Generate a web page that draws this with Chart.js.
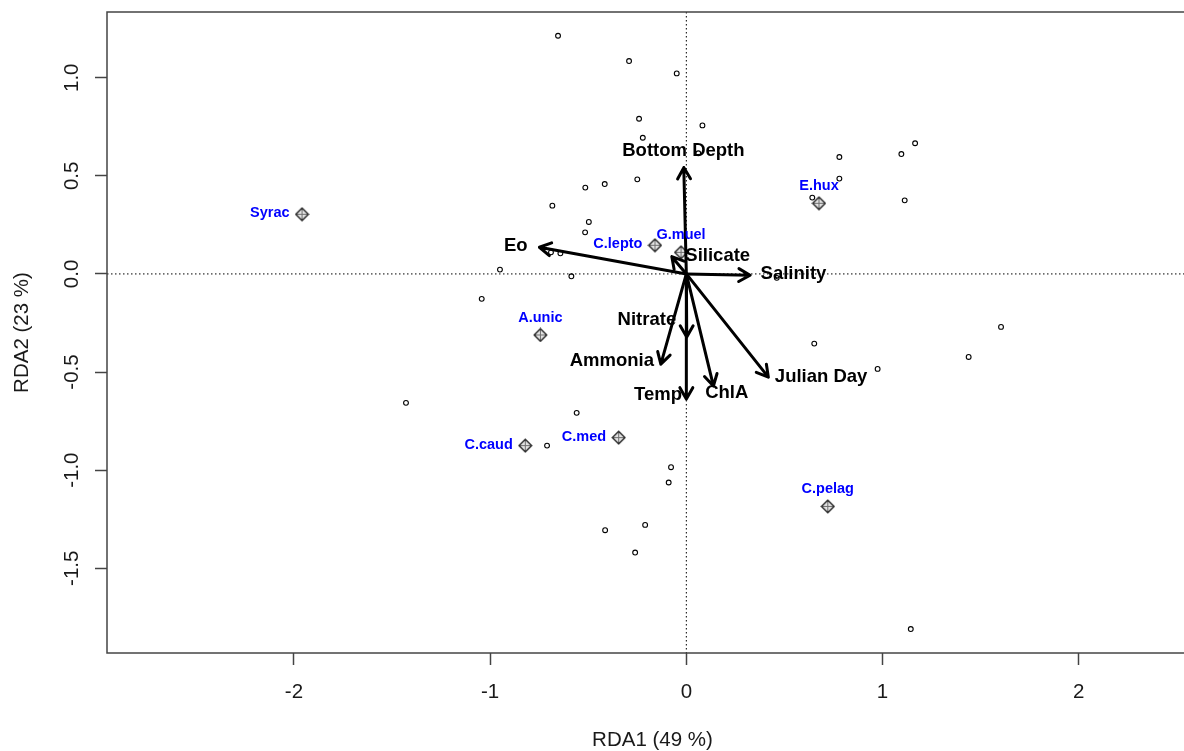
<!DOCTYPE html>
<html>
<head>
<meta charset="utf-8">
<title>RDA biplot</title>
<script src="https://cdn.jsdelivr.net/npm/chart.js@4.4.1/dist/chart.umd.min.js"></script>
<style>
  html, body { margin: 0; padding: 0; background: #fff; overflow: hidden; }
  #wrap { position: relative; width: 1210px; height: 751px; }
</style>
</head>
<body>
<div id="wrap"><canvas id="rda_plot"></canvas></div>
<script>
// site scores (RDA1, RDA2)
var siteX = [-0.654, -0.292, -0.049, -0.241, 0.082, -0.222, 0.061, -0.250, -0.515, -0.416,
             -0.683, -0.497, -0.516, -0.690, -0.642, -0.950, -0.586, -1.043, 0.461, 1.166,
             1.096, 0.780, 0.780, 0.642, 1.113, 1.604, 0.652, 1.439, 0.975, 1.144,
             -1.429, -0.559, -0.710, -0.078, -0.090, -0.414, -0.210, -0.261];
var siteY = [1.214, 1.085, 1.022, 0.791, 0.757, 0.694, 0.615, 0.482, 0.440, 0.458,
             0.348, 0.265, 0.212, 0.110, 0.105, 0.022, -0.012, -0.127, -0.020, 0.666,
             0.611, 0.596, 0.486, 0.389, 0.375, -0.270, -0.355, -0.423, -0.484, -1.810,
             -0.657, -0.708, -0.875, -0.985, -1.063, -1.306, -1.279, -1.420];

// species scores
var speciesNames = ['Syrac', 'C.lepto', 'G.muel', 'A.unic', 'C.caud', 'C.med', 'E.hux', 'C.pelag'];
var speciesX = [-1.959, -0.160, -0.027, -0.744, -0.821, -0.345, 0.676, 0.721];
var speciesY = [0.304, 0.146, 0.110, -0.311, -0.875, -0.834, 0.360, -1.185];
var speciesSide = ['left', 'left', 'above', 'above', 'left', 'left', 'above', 'above'];

// environmental vectors: arrow tips and where their names sit
var envNames = ['Bottom Depth', 'Eo', 'Silicate', 'Salinity', 'Nitrate', 'Ammonia', 'Temp', 'ChlA', 'Julian Day'];
var envX = [-0.013, -0.749, -0.074, 0.325, 0.002, -0.130, 0.000, 0.138, 0.418];
var envY = [0.542, 0.136, 0.088, -0.007, -0.322, -0.460, -0.637, -0.571, -0.526];
var envLabelX = [-0.015, -0.869, 0.160, 0.546, -0.201, -0.380, -0.144, 0.206, 0.687];
var envLabelY = [0.627, 0.144, 0.090, 0.000, -0.236, -0.442, -0.619, -0.605, -0.523];

var axisTitleX = 'RDA1 (49 %)';
var axisTitleY = 'RDA2 (23 %)';

var FONT = '"Liberation Sans", Arial, Helvetica, sans-serif';

function makeDiamond()
{
  var size = 15;
  var c = document.createElement('canvas');
  c.width = size;
  c.height = size;
  var g = c.getContext('2d');
  var m = size / 2, r = 6.3;
  g.beginPath();
  g.moveTo(m, m - r);
  g.lineTo(m + r, m);
  g.lineTo(m, m + r);
  g.lineTo(m - r, m);
  g.closePath();
  g.fillStyle = '#e4e4e4';
  g.fill();
  // the plus inside the diamond
  g.strokeStyle = '#707070';
  g.lineWidth = 1;
  g.beginPath();
  g.moveTo(m, m - r); g.lineTo(m, m + r);
  g.moveTo(m - r, m); g.lineTo(m + r, m);
  g.stroke();
  g.beginPath();
  g.moveTo(m, m - r);
  g.lineTo(m + r, m);
  g.lineTo(m, m + r);
  g.lineTo(m - r, m);
  g.closePath();
  g.strokeStyle = '#1e1e1e';
  g.lineWidth = 1.3;
  g.stroke();
  return c;
}

function toPoints(xs, ys)
{
  var pts = [];
  for (var i = 0; i < xs.length; i++)
  {
    pts.push({ x: xs[i], y: ys[i] });
  }
  return pts;
}

// box round the plot region
var framePlugin =
{
  id: 'frame',
  afterDraw: function(chart)
  {
    var a = chart.chartArea, ctx = chart.ctx;
    ctx.save();
    ctx.strokeStyle = '#444';
    ctx.lineWidth = 1.5;
    ctx.strokeRect(a.left, a.top, a.right - a.left, a.bottom - a.top);
    ctx.restore();
  }
};

// dotted lines through the origin
var zeroLinesPlugin =
{
  id: 'zeroLines',
  beforeDatasetsDraw: function(chart)
  {
    var a = chart.chartArea, ctx = chart.ctx;
    var x0 = chart.scales.x.getPixelForValue(0);
    var y0 = chart.scales.y.getPixelForValue(0);
    ctx.save();
    ctx.strokeStyle = '#000';
    ctx.lineWidth = 1;
    ctx.setLineDash([1.5, 2.5]);
    ctx.beginPath();
    ctx.moveTo(a.left, y0);
    ctx.lineTo(a.right, y0);
    ctx.moveTo(x0, a.top);
    ctx.lineTo(x0, a.bottom);
    ctx.stroke();
    ctx.restore();
  }
};

// environmental arrows plus the text labels
var biplotPlugin =
{
  id: 'biplot',
  afterDatasetsDraw: function(chart)
  {
    var ctx = chart.ctx;
    var sx = chart.scales.x, sy = chart.scales.y;
    var ox = sx.getPixelForValue(0), oy = sy.getPixelForValue(0);
    var head = 13, spread = 0.52;

    ctx.save();
    ctx.strokeStyle = '#000';
    ctx.lineWidth = 3;
    ctx.lineCap = 'round';
    ctx.lineJoin = 'round';
    for (var i = 0; i < envNames.length; i++)
    {
      var tx = sx.getPixelForValue(envX[i]);
      var ty = sy.getPixelForValue(envY[i]);
      var ang = Math.atan2(ty - oy, tx - ox);
      ctx.beginPath();
      ctx.moveTo(ox, oy);
      ctx.lineTo(tx, ty);
      ctx.moveTo(tx - head * Math.cos(ang - spread), ty - head * Math.sin(ang - spread));
      ctx.lineTo(tx, ty);
      ctx.lineTo(tx - head * Math.cos(ang + spread), ty - head * Math.sin(ang + spread));
      ctx.stroke();
    }

    ctx.fillStyle = '#000';
    ctx.font = 'bold 18.5px ' + FONT;
    ctx.textAlign = 'center';
    ctx.textBaseline = 'middle';
    for (var j = 0; j < envNames.length; j++)
    {
      ctx.fillText(envNames[j], sx.getPixelForValue(envLabelX[j]), sy.getPixelForValue(envLabelY[j]));
    }

    ctx.fillStyle = '#0000ff';
    ctx.font = 'bold 14.5px ' + FONT;
    for (var k = 0; k < speciesNames.length; k++)
    {
      var px = sx.getPixelForValue(speciesX[k]);
      var py = sy.getPixelForValue(speciesY[k]);
      if (speciesSide[k] === 'left')
      {
        ctx.textAlign = 'right';
        ctx.fillText(speciesNames[k], px - 12.5, py - 1);
      }
      else
      {
        ctx.textAlign = 'center';
        ctx.fillText(speciesNames[k], px, py - 17);
      }
    }
    ctx.restore();
  }
};

var tickFont = { family: FONT, size: 20.5 };
var titleFont = { family: FONT, size: 20.5, lineHeight: 1 };

var rdaCanvas = document.getElementById('rda_plot').getContext('2d');

var rdaChart = new Chart(rdaCanvas,
{
  type: 'scatter',
  data:
  {
    datasets:
    [
      {
        label: 'sites',
        data: toPoints(siteX, siteY),
        pointStyle: 'circle',
        pointRadius: 2.4,
        pointBorderWidth: 1.1,
        pointBorderColor: '#000',
        pointBackgroundColor: 'rgba(255,255,255,0)'
      },
      {
        label: 'species',
        data: toPoints(speciesX, speciesY),
        pointStyle: makeDiamond(),
        pointRadius: 7
      }
    ]
  },
  options:
  {
    responsive: true,
    maintainAspectRatio: false,
    animation: false,
    events: [],
    layout: { padding: { top: 12, right: 12, left: 0, bottom: 0 } },
    plugins:
    {
      legend: { display: false },
      tooltip: { enabled: false }
    },
    scales:
    {
      x:
      {
        type: 'linear',
        position: 'bottom',
        min: -2.953,
        max: 2.608,
        afterFit: function(scale)
        {
          scale.height = 98;
          scale.paddingLeft = 0;
          scale.paddingRight = 0;
        },
        border: { display: false },
        grid: { drawOnChartArea: false, tickLength: 12, tickColor: '#444', tickWidth: 1.5 },
        ticks:
        {
          stepSize: 1,
          includeBounds: false,
          color: '#1a1a1a',
          font: tickFont,
          padding: 15,
          maxRotation: 0,
          callback: function(v) { return String(v); }
        },
        title:
        {
          display: true,
          text: axisTitleX,
          color: '#1a1a1a',
          font: titleFont,
          padding: { top: 0, bottom: 0 }
        }
      },
      y:
      {
        type: 'linear',
        position: 'left',
        min: -1.932,
        max: 1.335,
        afterFit: function(scale)
        {
          scale.width = 107;
          scale.paddingTop = 0;
          scale.paddingBottom = 0;
        },
        border: { display: false },
        grid: { drawOnChartArea: false, tickLength: 12, tickColor: '#444', tickWidth: 1.5 },
        ticks:
        {
          stepSize: 0.5,
          includeBounds: false,
          color: '#1a1a1a',
          font: tickFont,
          padding: 5,
          minRotation: 90,
          maxRotation: 90,
          crossAlign: 'center',
          callback: function(v) { return v.toFixed(1); }
        },
        title:
        {
          display: true,
          text: axisTitleY,
          color: '#1a1a1a',
          font: titleFont,
          padding: { top: 12, bottom: 0 }
        }
      }
    }
  },
  plugins: [zeroLinesPlugin, biplotPlugin, framePlugin]
});
</script>
</body>
</html>
